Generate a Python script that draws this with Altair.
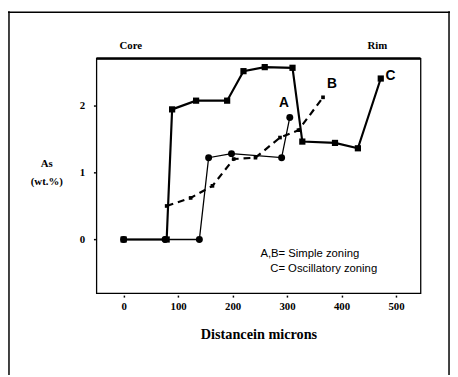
import altair as alt
import pandas as pd

# Series A (simple zoning, circles, thin solid line)
a_x = [0, 76, 139, 156, 198, 290, 305]
a_y = [0, 0, 0, 1.22, 1.28, 1.22, 1.82]
# Series B (simple zoning, dashed line)
b_x = [79, 123, 163, 202, 242, 287, 321, 366]
b_y = [0.5, 0.62, 0.8, 1.2, 1.22, 1.52, 1.63, 2.12]
# Series C (oscillatory zoning, squares, thick solid line)
c_x = [0, 79, 89, 133, 190, 220, 259, 310, 328, 388, 430, 472]
c_y = [0, 0, 1.94, 2.07, 2.07, 2.51, 2.57, 2.56, 1.46, 1.44, 1.36, 2.40]

x_ticks = [0, 50, 100, 150, 200, 250, 300, 350, 400, 450, 500]
y_ticks = [0, 1, 2]

rows = []
for name, xs, ys in (("A", a_x, a_y), ("B", b_x, b_y), ("C", c_x, c_y)):
    for i, (xv, yv) in enumerate(zip(xs, ys)):
        rows.append({"series": name, "x": xv, "y": yv, "i": i})
df = pd.DataFrame(rows)

ends = pd.DataFrame([
    {"series": "A", "x": a_x[-1], "y": a_y[-1]},
    {"series": "B", "x": b_x[-1], "y": b_y[-1]},
    {"series": "C", "x": c_x[-1], "y": c_y[-1]},
])

W, H = 330, 239
serif = "Liberation Serif"
sans = "Liberation Sans"

xs = alt.Scale(domain=[-50, 545], nice=False, zero=False)
ys = alt.Scale(domain=[-0.8, 2.7], nice=False, zero=False)

xenc = alt.X("x:Q", scale=xs, axis=alt.Axis(
    values=x_ticks, domain=False, grid=False, tickSize=2, offset=2,
    tickColor="black", tickWidth=1.5,
    labelExpr="datum.value % 100 == 0 ? datum.label : ''",
    labelFont=serif, labelFontWeight="bold", labelFontSize=11, labelColor="black",
    labelPadding=4, title="Distancein microns", titleFont=serif,
    titleFontWeight="bold", titleFontSize=14.5, titleColor="black", titlePadding=16))
yenc = alt.Y("y:Q", scale=ys, axis=alt.Axis(
    values=y_ticks, format="d", domain=False, grid=False, tickSize=2, offset=1,
    tickColor="black", tickWidth=1.5,
    labelFont=serif, labelFontWeight="bold", labelFontSize=11, labelColor="black",
    labelPadding=9, title=["As", "(wt.%)"], titleAngle=0, titleFont=serif,
    titleFontWeight="bold", titleFontSize=11, titleColor="black",
    titleX=-50, titleY=107, titleAlign="center", titleBaseline="middle", titleLineHeight=18))

base = alt.Chart(df).encode(x=xenc, y=yenc, order="i:Q")

line_c = base.transform_filter("datum.series == 'C'").mark_line(color="black", strokeWidth=2.2)
pts_c = base.transform_filter("datum.series == 'C'").mark_square(color="black", size=40, opacity=1)
line_a = base.transform_filter("datum.series == 'A'").mark_line(color="black", strokeWidth=1.3)
pts_a = base.transform_filter("datum.series == 'A'").mark_circle(color="black", size=50, opacity=1)
line_b = base.transform_filter("datum.series == 'B'").mark_line(color="black", strokeWidth=2.2, strokeDash=[7, 5])
pts_b = base.transform_filter("datum.series == 'B'").mark_square(color="black", size=14, opacity=1)

lbl = alt.Chart(ends).encode(x=alt.X("x:Q", scale=xs), y=alt.Y("y:Q", scale=ys), text="series:N")
lbl_a = lbl.transform_filter("datum.series == 'A'").mark_text(font=sans, fontWeight="bold", fontSize=14, dx=-6, dy=-15, color="black")
lbl_b = lbl.transform_filter("datum.series == 'B'").mark_text(font=sans, fontWeight="bold", fontSize=14, dx=9, dy=-13, color="black")
lbl_c = lbl.transform_filter("datum.series == 'C'").mark_text(font=sans, fontWeight="bold", fontSize=14, dx=10, dy=-2, color="black")

notes = alt.Chart(pd.DataFrame({
    "t": ["A,B= Simple zoning", "C= Oscillatory zoning", "Core", "Rim"],
    "px": [167, 177, 35, 286],
    "py": [202, 217, -13, -13],
})).encode(x=alt.X("px:Q", scale=None), y=alt.Y("py:Q", scale=None), text="t:N")
note_txt = notes.transform_filter("datum.py > 0").mark_text(
    font=sans, fontSize=11.5, align="left", baseline="alphabetic", color="black")
core_rim = notes.transform_filter("datum.py < 0").mark_text(
    font=serif, fontWeight="bold", fontSize=11, align="center", color="black")

top_rule = alt.Chart(pd.DataFrame({"a": [0]})).mark_rule(color="black", strokeWidth=2.5).encode(
    x=alt.value(0), x2=alt.value(W), y=alt.value(0))
frame_l = alt.Chart(pd.DataFrame({"a": [0]})).mark_rule(color="black", strokeWidth=1.5).encode(
    x=alt.value(-89), y=alt.value(-48), y2=alt.value(H + 90))
frame_t = alt.Chart(pd.DataFrame({"a": [0]})).mark_rule(color="black", strokeWidth=1.5).encode(
    x=alt.value(-90), x2=alt.value(W + 30), y=alt.value(-47))
frame_r = alt.Chart(pd.DataFrame({"a": [0]})).mark_rule(color="black", strokeWidth=1.5).encode(
    x=alt.value(W + 29), y=alt.value(-48), y2=alt.value(H + 90))

chart = alt.layer(
    line_a, pts_a, line_b, pts_b, line_c, pts_c,
    lbl_a, lbl_b, lbl_c, note_txt, core_rim, top_rule, frame_l, frame_t, frame_r,
).properties(
    width=W, height=H,
    autosize=alt.AutoSizeParams(type="none"),
    padding={"left": 90, "top": 48, "right": 30, "bottom": 80},
    background="white",
).configure_view(stroke="black", strokeWidth=1.3)

chart.save("out.html", embed_options={"renderer": "svg", "actions": False})
